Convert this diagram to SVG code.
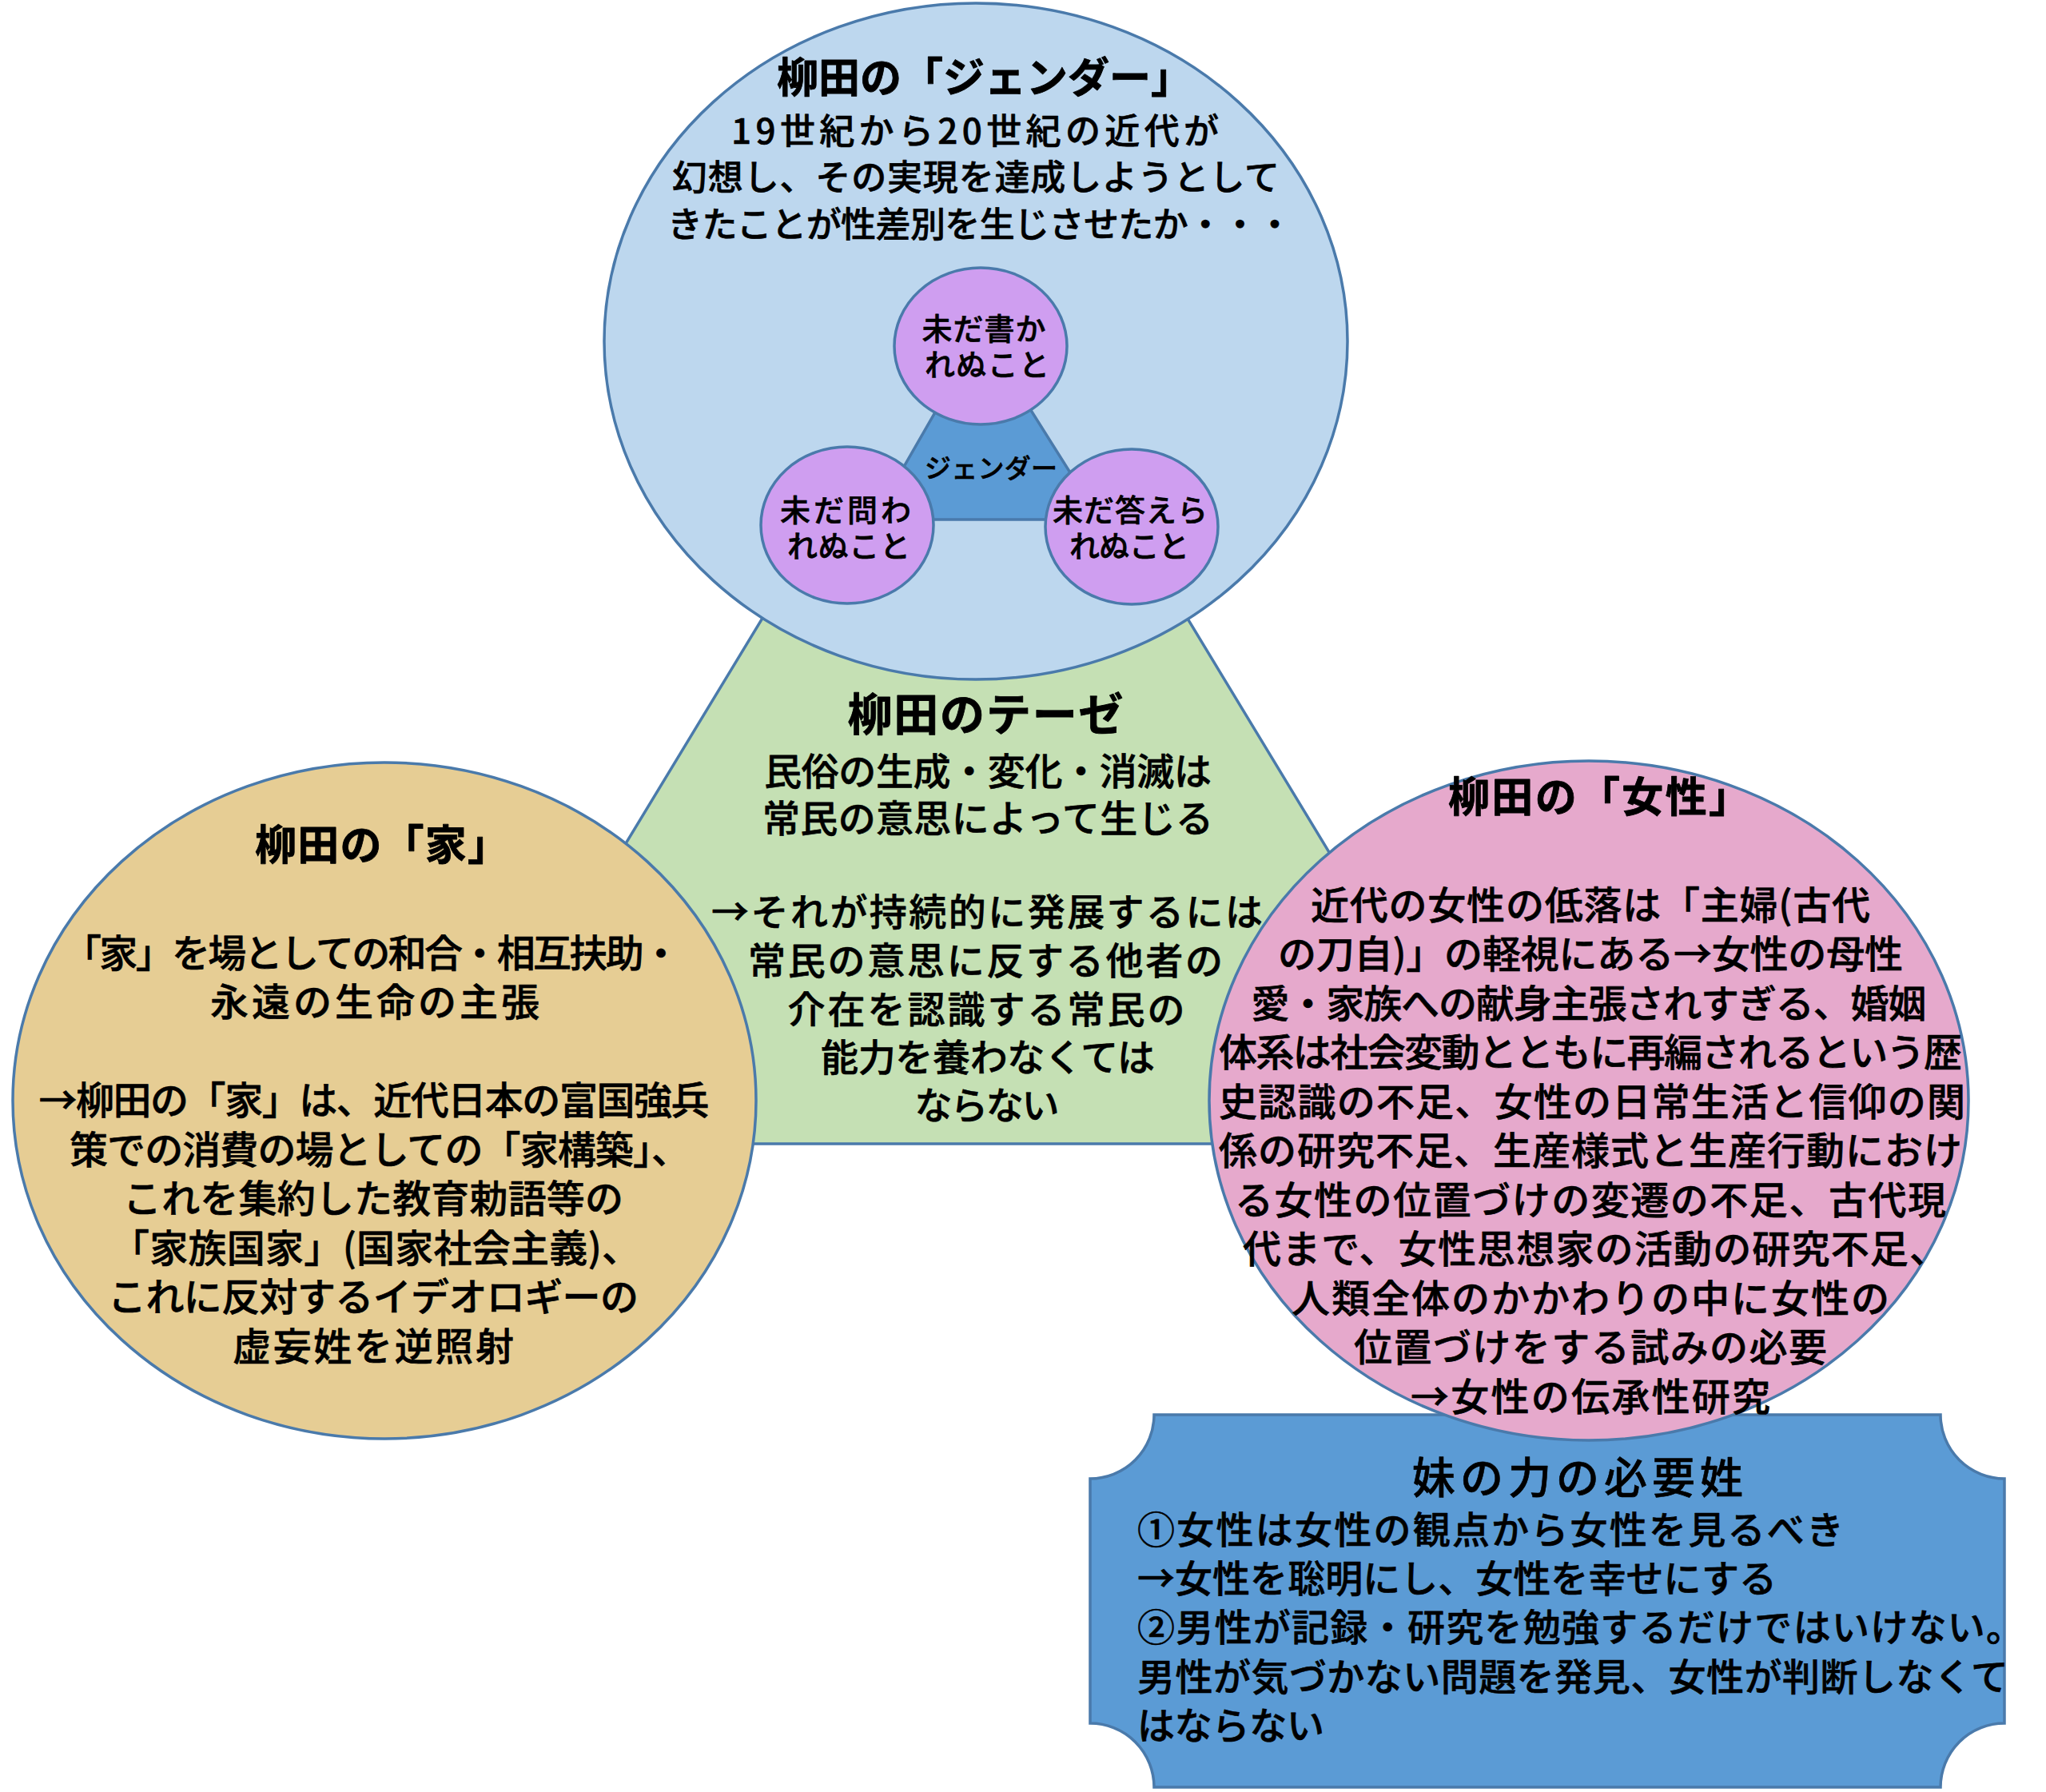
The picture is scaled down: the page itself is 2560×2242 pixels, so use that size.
<svg xmlns="http://www.w3.org/2000/svg" width="2560" height="2242" viewBox="0 0 2560 2242">
<style>
text{font-family:"Noto Sans CJK JP","Noto Sans CJK SC",sans-serif;fill:#000;}
.t{font-weight:700;text-anchor:middle;stroke:#000;stroke-width:0.8;stroke-linejoin:round;}
.b{font-weight:500;text-anchor:middle;stroke:#000;stroke-width:0.6;stroke-linejoin:round;}
.l{font-weight:500;text-anchor:start;stroke:#000;stroke-width:0.6;stroke-linejoin:round;}
.sh{stroke:#4a7aab;stroke-width:3.5;}
</style>
<rect width="2560" height="2242" fill="#ffffff"/>
<g id="connectors"></g>
<g id="node-thesis">
<polygon class="sh" points="1220,335 555,1431 1884,1431" fill="#c5e0b4"/>
<text class="t" x="1233" y="914" font-size="56" textLength="345">柳田のテーゼ</text>
<g font-size="47">
<text class="b" x="1236" y="982" textLength="560">民俗の生成・変化・消滅は</text>
<text class="b" x="1236" y="1041" textLength="564">常民の意思によって生じる</text>
<text class="b" x="1235" y="1158" textLength="690">→それが持続的に発展するには</text>
<text class="b" x="1233" y="1219" textLength="594">常民の意思に反する他者の</text>
<text class="b" x="1234" y="1280" textLength="497">介在を認識する常民の</text>
<text class="b" x="1236" y="1340" textLength="418">能力を養わなくては</text>
<text class="b" x="1235" y="1400" textLength="181">ならない</text>
</g>
</g>
<g id="node-gender">
<ellipse class="sh" cx="1221" cy="427" rx="465" ry="423" fill="#bdd7ee"/>
<text class="t" x="1232" y="116" font-size="52" textLength="520">柳田の「ジェンダー」</text>
<g font-size="44">
<text class="b" x="1220" y="180" textLength="610">19世紀から20世紀の近代が</text>
<text class="b" x="1221" y="238" textLength="760">幻想し、その実現を達成しようとして</text>
<text class="b" x="1226" y="297" textLength="782">きたことが性差別を生じさせたか・・・</text>
</g>
<g id="node-gender-core">
<polygon class="sh" points="1228,415 1093,650 1376,650" fill="#5b9bd5"/>
<text class="b" x="1240" y="598" font-size="33" textLength="166">ジェンダー</text>
</g>
<g id="node-kakarenu">
<ellipse class="sh" cx="1227" cy="433" rx="108" ry="98" fill="#cf9ef0"/>
<text class="b" x="1231" y="425" font-size="38" textLength="155">未だ書か</text>
<text class="b" x="1235" y="470" font-size="38" textLength="156">れぬこと</text>
</g>
<g id="node-towarenu">
<ellipse class="sh" cx="1060" cy="657" rx="108" ry="98" fill="#cf9ef0"/>
<text class="b" x="1058" y="652" font-size="38" textLength="164">未だ問わ</text>
<text class="b" x="1062" y="697" font-size="38" textLength="154">れぬこと</text>
</g>
<g id="node-kotaerarenu">
<ellipse class="sh" cx="1416" cy="659" rx="108" ry="97" fill="#cf9ef0"/>
<text class="b" x="1414" y="652" font-size="38" textLength="194">未だ答えら</text>
<text class="b" x="1413" y="697" font-size="38" textLength="150">れぬこと</text>
</g>
</g>
<g id="node-ie">
<ellipse class="sh" cx="481" cy="1377" rx="465" ry="423" fill="#e6cd94"/>
<text class="t" x="478" y="1076" font-size="52" textLength="318">柳田の「家」</text>
<g font-size="48">
<text class="b" x="465" y="1210" textLength="772">「家」を場としての和合・相互扶助・</text>
<text class="b" x="469" y="1271" textLength="412">永遠の生命の主張</text>
<text class="b" x="468" y="1394" textLength="839">→柳田の「家」は、近代日本の富国強兵</text>
<text class="b" x="475" y="1456" textLength="776">策での消費の場としての「家構築」、</text>
<text class="b" x="467" y="1517" textLength="626">これを集約した教育勅語等の</text>
<text class="b" x="470" y="1579" textLength="662">「家族国家」(国家社会主義)、</text>
<text class="b" x="467" y="1640" textLength="664">これに反対するイデオロギーの</text>
<text class="b" x="467" y="1702" textLength="352">虚妄姓を逆照射</text>
</g>
</g>
<g id="node-imo">
<path class="sh" fill="#5b9bd5" d="M1444,1770 L2428,1770 A80,80 0 0 0 2508,1850 L2508,2156 A80,80 0 0 0 2428,2236 L1444,2236 A80,80 0 0 0 1364,2156 L1364,1850 A80,80 0 0 0 1444,1770 Z"/>
<text class="b" x="1974" y="1869" font-size="54" textLength="414">妹の力の必要姓</text>
<g font-size="47">
<text class="l" x="1423" y="1931" textLength="884">①女性は女性の観点から女性を見るべき</text>
<text class="l" x="1423" y="1992" textLength="800">→女性を聡明にし、女性を幸せにする</text>
<text class="l" x="1423" y="2053" textLength="1109">②男性が記録・研究を勉強するだけではいけない。</text>
<text class="l" x="1423" y="2115" textLength="1090">男性が気づかない問題を発見、女性が判断しなくて</text>
<text class="l" x="1423" y="2176" textLength="234">はならない</text>
</g>
</g>
<g id="node-josei">
<ellipse class="sh" cx="1988" cy="1377" rx="475" ry="425" fill="#e6a9cc"/>
<text class="t" x="2001" y="1016" font-size="52" textLength="378">柳田の「女性」</text>
<g font-size="48">
<text class="b" x="1990" y="1150" textLength="700">近代の女性の低落は「主婦(古代</text>
<text class="b" x="1990" y="1211" textLength="782">の刀自)」の軽視にある→女性の母性</text>
<text class="b" x="1988" y="1273" textLength="845">愛・家族への献身主張されすぎる、婚姻</text>
<text class="b" x="1990" y="1334" textLength="930">体系は社会変動とともに再編されるという歴</text>
<text class="b" x="1992" y="1396" textLength="934">史認識の不足、女性の日常生活と信仰の関</text>
<text class="b" x="1990" y="1457" textLength="930">係の研究不足、生産様式と生産行動におけ</text>
<text class="b" x="1990" y="1519" textLength="890">る女性の位置づけの変遷の不足、古代現</text>
<text class="b" x="1996" y="1580" textLength="882">代まで、女性思想家の活動の研究不足、</text>
<text class="b" x="1990" y="1642" textLength="748">人類全体のかかわりの中に女性の</text>
<text class="b" x="1990" y="1703" textLength="592">位置づけをする試みの必要</text>
<text class="b" x="1990" y="1765" textLength="450">→女性の伝承性研究</text>
</g>
</g>
</svg>
